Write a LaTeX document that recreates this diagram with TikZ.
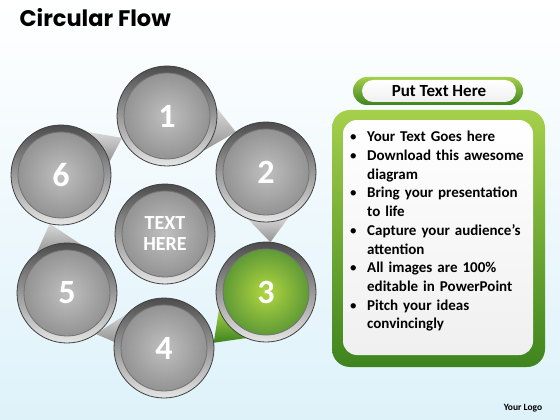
\documentclass[tikz,border=0pt]{standalone}
\usepackage{fontspec}
\setmainfont{Carlito}
\newfontfamily\titlefont{Poppins}
\usepackage{enumitem}
\pgfdeclarelayer{sky}
\pgfdeclarelayer{tails}
\pgfsetlayers{sky,tails,main}

\definecolor{skyblue}{RGB}{222,242,250}
\definecolor{grnlight}{RGB}{165,208,75}
\definecolor{grndark}{RGB}{62,132,30}

\tikzset{
  ringball/.style={circle, minimum size=100pt, inner sep=0pt, outer sep=0pt,
    top color=black!70, bottom color=gray!20, draw=black!75, line width=0.8pt,
    text=white, font=\fontsize{34}{34}\selectfont\bfseries,
    path picture={\shadedraw[inner color=gray!50, outer color=gray!90, draw=black!55, line width=0.8pt]
      (path picture bounding box.center) circle (43pt);}},
  greenball/.style={ringball,
    path picture={\shadedraw[inner color=grnlight!85!yellow, outer color=grndark!90, draw=black!55, line width=0.8pt]
      (path picture bounding box.center) circle (43pt);}},
  tail/.style={top color=gray!30, bottom color=gray!85},
  greentail/.style={top color=grnlight, bottom color=grndark},
  panel/.style={inner sep=0pt, outer sep=0pt},
}

\begin{document}
\begin{tikzpicture}[x=1pt,y=-1pt]  % ------ Circular flow -----------
    \useasboundingbox (0,0) rectangle (560,420);
    \begin{pgfonlayer}{sky}
      \shade[top color=white, middle color=white, bottom color=skyblue] (0,0) rectangle (560,420);
    \end{pgfonlayer}

    \node[anchor=base west, font=\titlefont\bfseries\fontsize{22.5}{22.5}\selectfont] (title) at (16,27) {Circular Flow};

    % ------ the six steps -----------
    \node[ringball] (c1) at (167,116) {1};
    \node[ringball] (c2) at (266,172) {2};
    \node[greenball] (c3) at (266,292) {3};
    \node[ringball] (c4) at (164,348) {4};
    \node[ringball] (c5) at (67,293) {5};
    \node[ringball] (c6) at (61,175) {6};
    \node[ringball, align=center, font=\fontsize{20}{21}\selectfont\bfseries] (mid) at (165,234) {TEXT\\HERE};

    \begin{pgfonlayer}{tails}
      \shade[tail] (c1.10) -- (c2.127) -- (c1.-45) -- cycle;
      \shade[tail] (c2.-62) -- (c3.85) -- (c2.-112) -- cycle;
      \shade[greentail] (c3.200) -- (c4.6) -- (c3.247) -- cycle;
      \shade[tail] (c4.135) -- (c5.-55) -- (c4.173) -- cycle;
      \shade[tail] (c5.72) -- (c6.-103) -- (c5.128) -- cycle;
      \shade[tail] (c6.60) -- (c1.206) -- (c6.15) -- cycle;
    \end{pgfonlayer}

    % ------ text panel -----------
    \node[panel, top color=grnlight, bottom color=grndark, rounded corners=14pt,
          minimum width=170pt, minimum height=28pt] (headout) at (438,91) {};
    \node[panel, top color=white, bottom color=gray!12, rounded corners=11pt,
          minimum width=154pt, minimum height=22pt, font=\fontsize{17}{17}\selectfont\bfseries]
          (head) at (439,91) {Put Text Here};
    \node[panel, top color=grnlight, bottom color=grndark, rounded corners=18pt,
          minimum width=213pt, minimum height=257pt] (boxout) at (438.5,238.5) {};
    \node[panel, top color=white, bottom color=gray!12, rounded corners=14pt,
          minimum width=190pt, minimum height=235pt] (box) at (438,237.5) {};

    \node[anchor=north west, text width=185pt, inner sep=0pt,
          font=\fontsize{15}{18.7}\selectfont\bfseries] (list) at (351,123) {%
      \begin{itemize}[leftmargin=16pt, labelsep=10pt, itemsep=0pt, topsep=0pt, parsep=0pt, partopsep=0pt]
        \item Your Text Goes here
        \item Download this awesome\newline diagram
        \item Bring your presentation\newline to life
        \item Capture your audience’s\newline attention
        \item All images are 100\%\newline editable in PowerPoint
        \item Pitch your ideas\newline convincingly
      \end{itemize}};

    \node[font=\fontsize{9.5}{10}\selectfont\bfseries] (logo) at (523,408) {Your Logo};
\end{tikzpicture}
\end{document}
